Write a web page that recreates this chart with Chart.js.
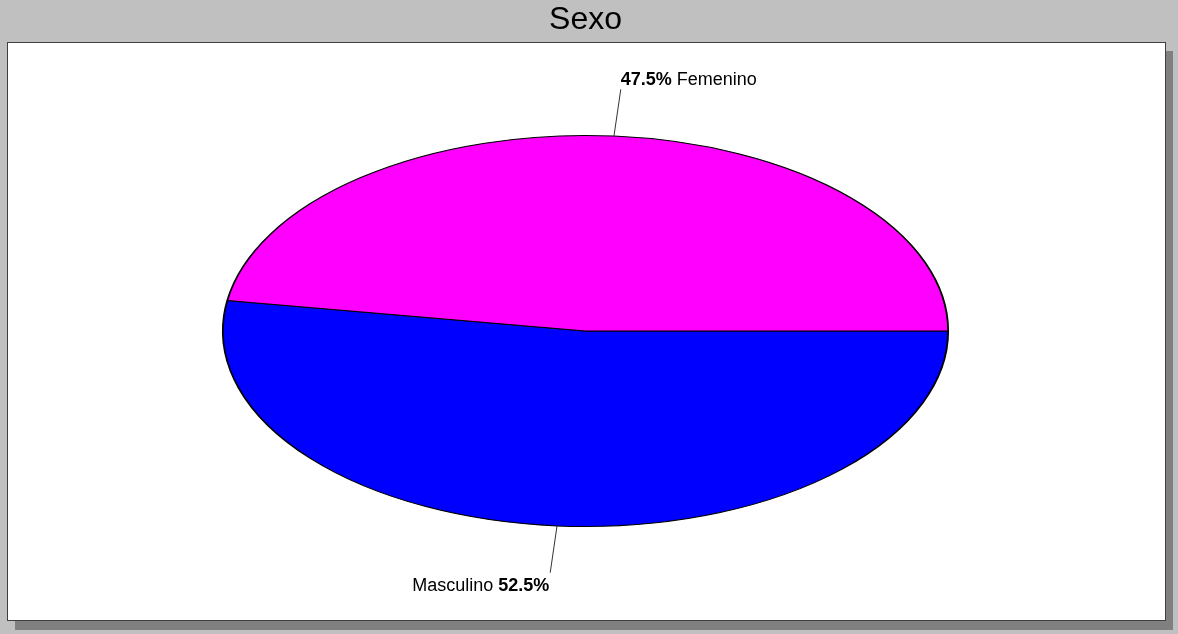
<!DOCTYPE html>
<html>
<head>
<meta charset="utf-8">
<script src="https://cdn.jsdelivr.net/npm/chart.js@4/dist/chart.umd.min.js"></script>
<style>
  html, body { margin: 0; padding: 0; background: #c0c0c0; }
  #wrap { width: 1178px; height: 634px; }
</style>
</head>
<body>
<div id="wrap"><canvas id="pieChart" width="1178" height="634"></canvas></div>
<script>
"use strict"

// data
var categories = ["Masculino", "Femenino"];
var percentages = [52.5, 47.5];
var slice_colors = ["#0000ff", "#ff00ff"];

var title_text = "Sexo";
var stretch_x = 1.855;   // pie is drawn as an ellipse
var leader_factor = 1.24;

var font_family = "'Liberation Sans', Arial, sans-serif";

// gray frame, shadow and white plot box
var frame_plugin = {
    id: "frame",
    beforeDraw: function (chart) {
        var ctx = chart.ctx;
        ctx.save();
        ctx.fillStyle = "#c0c0c0";
        ctx.fillRect(0, 0, chart.width, chart.height);
        ctx.fillStyle = "#808080";
        ctx.fillRect(15, 51, 1158, 579);
        ctx.fillStyle = "#ffffff";
        ctx.fillRect(7, 42, 1159, 579);
        ctx.strokeStyle = "#404040";
        ctx.lineWidth = 1;
        ctx.strokeRect(7.5, 42.5, 1158, 578);
        ctx.restore();
    }
};

// stretch the pie horizontally and put the labels with leader lines
var ellipse_plugin = {
    id: "ellipse",
    beforeDatasetsDraw: function (chart) {
        var arc = chart.getDatasetMeta(0).data[0];
        var ctx = chart.ctx;
        ctx.save();
        ctx.translate(arc.x, arc.y);
        ctx.scale(stretch_x, 1);
        ctx.translate(-arc.x, -arc.y);
    },
    afterDatasetsDraw: function (chart) {
        var ctx = chart.ctx;
        ctx.restore();

        var arcs = chart.getDatasetMeta(0).data;
        ctx.save();
        for (var i = 0; i < arcs.length; i++) {
            var a = arcs[i];
            var mid = (a.startAngle + a.endAngle) / 2;
            var dx = Math.cos(mid) * a.outerRadius * stretch_x;
            var dy = Math.sin(mid) * a.outerRadius;
            var x0 = a.x + dx, y0 = a.y + dy;
            var x1 = a.x + dx * leader_factor, y1 = a.y + dy * leader_factor;

            ctx.strokeStyle = "#333333";
            ctx.lineWidth = 1;
            ctx.beginPath();
            ctx.moveTo(x0, y0);
            ctx.lineTo(x1, y1);
            ctx.stroke();

            var pct = percentages[i].toFixed(1) + "%";
            var name = categories[i];
            var bold = "bold 18px " + font_family;
            var normal = "18px " + font_family;
            ctx.fillStyle = "#000000";
            ctx.textBaseline = "alphabetic";
            ctx.textAlign = "left";

            if (dy < 0) {
                // upper half: "47.5% Femenino" to the right of the line end
                var tx = x1;
                var ty = y1 - 4;
                ctx.font = bold;
                ctx.fillText(pct, tx, ty);
                var w = ctx.measureText(pct).width;
                ctx.font = normal;
                ctx.fillText(" " + name, tx + w, ty);
            } else {
                // lower half: "Masculino 52.5%" to the left of the line end
                ctx.font = bold;
                var wp = ctx.measureText(pct).width;
                ctx.font = normal;
                var wn = ctx.measureText(name + " ").width;
                var sx = x1 - 1 - wp - wn;
                var sy = y1 + 18;
                ctx.fillText(name + " ", sx, sy);
                ctx.font = bold;
                ctx.fillText(pct, sx + wn, sy);
            }
        }
        ctx.restore();
    }
};

var canvas = document.getElementById("pieChart");
var pieChart = new Chart(canvas.getContext("2d"), {
    type: "pie",
    data: {
        labels: categories,
        datasets: [{
            data: percentages,
            backgroundColor: slice_colors,
            borderColor: "#000000",
            borderWidth: 1,
            hoverOffset: 0
        }]
    },
    options: {
        responsive: false,
        animation: false,
        events: [],
        rotation: 90,
        layout: {
            padding: { left: 0, right: 7, top: 0, bottom: 107 }
        },
        plugins: {
            legend: { display: false },
            tooltip: { enabled: false },
            title: {
                display: true,
                text: title_text,
                color: "#000000",
                font: { family: font_family, size: 32, weight: "normal", lineHeight: 1.2 },
                padding: { top: 1, bottom: 95.6 }
            }
        }
    },
    plugins: [frame_plugin, ellipse_plugin]
});
</script>
</body>
</html>
